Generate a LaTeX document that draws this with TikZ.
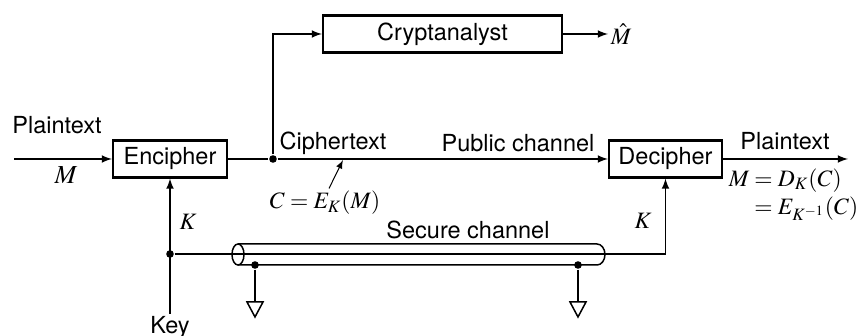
\documentclass[tikz,border=0pt]{standalone}
\usepackage{mathptmx}
\usepackage{fontspec}
\setmainfont{TeX Gyre Heros}
\usetikzlibrary{shapes,arrows,positioning}
\def\Tri#1{\draw (#1) ++(-8,0) -- ++(16,0) -- ++(-8,-15) -- cycle;}

\begin{document}
\begin{tikzpicture}[% px-like units, y counted up from the bottom
			x=0.5pt,y=0.5pt,
			every node/.style={
				align=center,		% for the "\\" in the labels
				inner sep=1pt,
				font=\fontsize{11.75}{14}\selectfont
			},
			box/.style={rectangle,draw=black,line width=1.1pt,minimum height=18.5pt},
			dot/.style={circle,fill=black,inner sep=0pt,minimum size=3.8pt},
			every edge/.style={draw,line width=0.75pt},
			line width=0.75pt,>=latex
		]
		\useasboundingbox (0,0) rectangle (859,336);
		% boxes
		\node[box,minimum width=57pt](R1) at (170,177){Encipher};
		\node[box,minimum width=56.5pt](R2) at (665.5,177){Decipher};
		\node[box,minimum width=119.5pt](R3) at (442.5,302){Cryptanalyst};
		% labels
		\node(R4) at (57,211){Plaintext};
		\node(R5)[font=\fontsize{13}{15}\selectfont] at (66,161){$M$};
		\node(R6)[anchor=west] at (608,302){$\hat{M}$};
		\node(R7) at (333,193){Ciphertext};
		\node(R8) at (518,193){Public channel};
		\node(R9) at (325,133){$C = E_K(M)$};
		\node(R10) at (785,195){Plaintext};
		\node(R11)[anchor=north west,inner sep=0pt] at (728,170){%
			\begin{tabular}{@{}r@{}l@{}}$M$&${}= D_K(C)$\\&${}= E_{K^{-1}}(C)$\end{tabular}};
		\node(R12) at (188,114){$K$};
		\node(R13) at (643,115){$K$};
		\node(R14) at (468,106){Secure channel};
		\node(key)[anchor=north] at (170,22){Key};
		% junctions
		\node[dot](J1) at (273,177){};
		\node[dot](J2) at (170,82){};
		\node[dot](G1) at (255,71){};
		\node[dot](G2) at (578,71){};
		\coordinate (in) at (14,177);
		\coordinate (out) at (848,177);
		\coordinate (tip) at (343,176);
		\coordinate (T1) at (255,34);
		\coordinate (T2) at (578,34);
		% secure channel cable
		\draw (238,92) -- (597,92) arc[start angle=90,end angle=-90,x radius=8,y radius=10.5] -- (238,71);
		\draw (238,81.5) ellipse [x radius=6,y radius=10.5];
		\path[->]
		(in)edge []	node [] {} (R1)
		(J1)edge []	node [] {} (R2)
		(R3)edge []	node [] {} (R6)
		(R2)edge []	node [] {} (out)
		(key)edge []	node [] {} (R1)
		([xshift=2pt]R9.north)edge [line width=0.5pt]	node [] {} (tip)
		;
		\draw (R1) -- (J1);
		\draw[->] (J1) |- (R3);
		\draw[->] (J2) -| (R2.south);
		\draw (G1) -- (T1);
		\draw (G2) -- (T2);
		\Tri{T1}
		\Tri{T2}
	\end{tikzpicture}
\end{document}
